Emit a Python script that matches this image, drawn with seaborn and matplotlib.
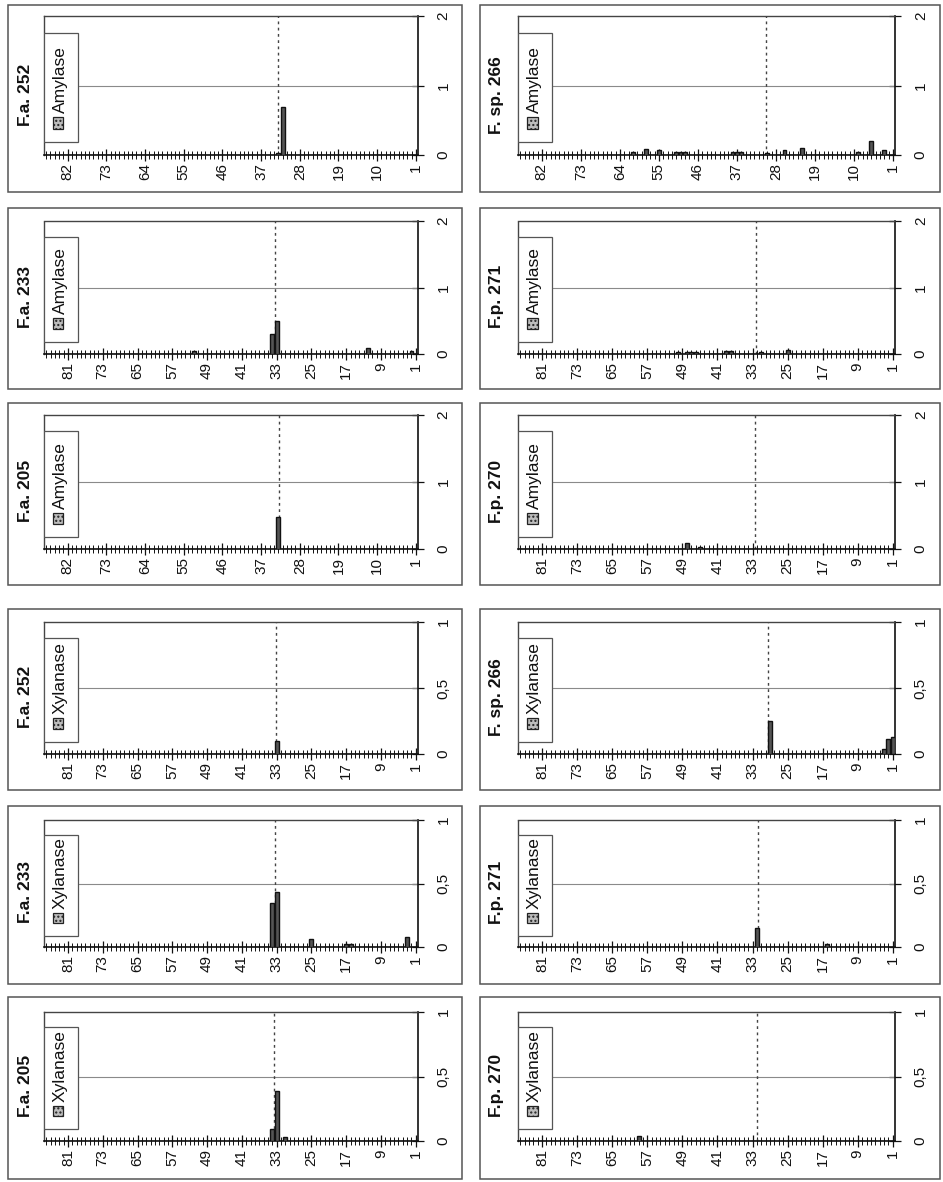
import numpy as np
import pandas as pd
import matplotlib
matplotlib.use("Agg")
import matplotlib.pyplot as plt
import matplotlib.transforms as mtransforms
from matplotlib.patches import Rectangle
from matplotlib.ticker import MultipleLocator
import seaborn as sns

# panel titles, left column then right column, top to bottom
left_titles = ["F.a. 252", "F.a. 233", "F.a. 205", "F.a. 252", "F.a. 233", "F.a. 205"]
right_titles = ["F. sp. 266", "F.p. 271", "F.p. 270", "F. sp. 266", "F.p. 271", "F.p. 270"]
enzymes = ["Amylase", "Amylase", "Amylase", "Xylanase", "Xylanase", "Xylanase"]

# number of fractions on each panel
left_nfrac = [87, 86, 87, 86, 86, 86]
right_nfrac = [87, 86, 86, 86, 86, 86]

# position of the dashed marker line (fraction)
left_marker = [33.1, 33.4, 32.9, 33.1, 33.4, 33.7]
right_marker = [30.2, 32.3, 32.5, 29.4, 31.7, 31.9]

# activity per fraction (only non zero fractions)
fa252_amy_frac = [33, 32]
fa252_amy_val = [0.03, 0.69]
fa233_amy_frac = [52, 34, 33, 12, 2]
fa233_amy_val = [0.04, 0.30, 0.49, 0.09, 0.04]
fa205_amy_frac = [33]
fa205_amy_val = [0.48]
fa252_xyl_frac = [33]
fa252_xyl_val = [0.10]
fa233_xyl_frac = [34, 33, 25, 17, 16, 3]
fa233_xyl_val = [0.35, 0.43, 0.06, 0.025, 0.025, 0.08]
fa205_xyl_frac = [34, 33, 31]
fa205_xyl_val = [0.09, 0.39, 0.03]

fsp266_amy_frac = [61, 58, 55, 51, 50, 49, 38, 37, 36, 30, 26, 22, 9, 6, 3]
fsp266_amy_val = [0.04, 0.09, 0.07, 0.04, 0.04, 0.04, 0.04, 0.04, 0.04, 0.03, 0.07, 0.10, 0.04, 0.20, 0.07]
fp271_amy_frac = [50, 48, 47, 46, 39, 38, 31, 25]
fp271_amy_val = [0.03, 0.03, 0.03, 0.03, 0.05, 0.04, 0.03, 0.06]
fp270_amy_frac = [48, 45]
fp270_amy_val = [0.09, 0.03]
fsp266_xyl_frac = [29, 3, 2, 1]
fsp266_xyl_val = [0.25, 0.04, 0.11, 0.13]
fp271_xyl_frac = [32, 16]
fp271_xyl_val = [0.15, 0.02]
fp270_xyl_frac = [59]
fp270_xyl_val = [0.035]

left_data = [(fa252_amy_frac, fa252_amy_val), (fa233_amy_frac, fa233_amy_val),
             (fa205_amy_frac, fa205_amy_val), (fa252_xyl_frac, fa252_xyl_val),
             (fa233_xyl_frac, fa233_xyl_val), (fa205_xyl_frac, fa205_xyl_val)]
right_data = [(fsp266_amy_frac, fsp266_amy_val), (fp271_amy_frac, fp271_amy_val),
              (fp270_amy_frac, fp270_amy_val), (fsp266_xyl_frac, fsp266_xyl_val),
              (fp271_xyl_frac, fp271_xyl_val), (fp270_xyl_frac, fp270_xyl_val)]

sns.set_theme(style="white")
plt.rcParams["font.family"] = ["Liberation Sans", "DejaVu Sans"]

W, H = 943, 1182
fig = plt.figure(figsize=(W / 100, H / 100), dpi=100)
fig.patch.set_facecolor("white")

# layout in pixels
box_x = [(8, 462), (480, 940)]
plot_x = [(44, 418), (518, 895)]
title_x = [25, 497]
box_y = [(5, 192), (208, 389), (403, 585), (609, 790), (806, 984), (997, 1179)]
plot_y = [(16, 155), (221, 354), (415, 549), (622, 754), (820, 947), (1012, 1141)]


def draw_panel(col, row, title, enzyme, nfrac, marker, frac, vals):
    bx0, bx1 = box_x[col]
    by0, by1 = box_y[row]
    fig.add_artist(Rectangle((bx0 / W, 1 - by1 / H), (bx1 - bx0) / W, (by1 - by0) / H,
                             transform=fig.transFigure, fill=False, ec="#555555", lw=1.1))
    px0, px1 = plot_x[col]
    py0, py1 = plot_y[row]
    ax = fig.add_axes([px0 / W, 1 - py1 / H, (px1 - px0) / W, (py1 - py0) / H])

    df = pd.DataFrame({"fraction": np.arange(1, nfrac + 1), "activity": 0.0})
    lookup = dict(zip(frac, vals))
    df["activity"] = df["fraction"].map(lookup).fillna(0.0)
    sns.barplot(data=df, x="fraction", y="activity", native_scale=True, width=0.9,
                color="#555555", saturation=1, edgecolor="#111111", linewidth=1.0,
                errorbar=None, ax=ax, zorder=3)

    if enzyme == "Amylase":
        ymax, yt, ylab = 2, [0, 1, 2], ["0", "1", "2"]
    else:
        ymax, yt, ylab = 1, [0, 0.5, 1], ["0", "0,5", "1"]
    step = 9 if nfrac == 87 else 8

    ax.set_xlim(nfrac + 0.5, 0.5)
    ax.set_ylim(0, ymax)
    ax.set_xlabel("")
    ax.set_ylabel("")
    ax.set_xticks(list(range(1, nfrac + 1, step)))
    ax.set_xticklabels([str(v) for v in range(1, nfrac + 1, step)], rotation=90, va="top")
    ax.xaxis.set_minor_locator(MultipleLocator(1))
    ax.tick_params(axis="x", which="major", bottom=True, direction="inout", length=8,
                   width=0.9, labelsize=11, pad=2, colors="#111111")
    ax.tick_params(axis="x", which="minor", bottom=True, direction="inout", length=6,
                   width=0.7, colors="#111111")
    ax.yaxis.tick_right()
    ax.set_yticks(yt)
    ax.set_yticklabels(ylab, rotation=90, va="center")
    ax.tick_params(axis="y", right=True, left=False, direction="inout", length=9,
                   width=0.9, labelsize=11, pad=9, colors="#111111")

    for s in ["top", "left"]:
        ax.spines[s].set_linestyle((0, (1, 1)))
        ax.spines[s].set_color("#444444")
        ax.spines[s].set_linewidth(1.0)
    for s in ["right", "bottom"]:
        ax.spines[s].set_color("#111111")
        ax.spines[s].set_linewidth(1.2)

    ax.axhline(ymax / 2, color="#8a8a8a", lw=0.8, zorder=1)
    ax.axvline(marker, color="#444444", lw=1.0, ls=(0, (2, 2.5)), zorder=2)

    # legend drawn rotated like the page
    ax.add_patch(Rectangle((0, 0.09), 0.09, 0.79, transform=ax.transAxes,
                           fc="white", ec="#555555", lw=0.9, zorder=5))
    ax.add_patch(Rectangle((0.024, 0.19), 0.028, 0.08, transform=ax.transAxes,
                           fc="#bdbdbd", ec="#222222", lw=0.9, hatch="....", zorder=6))
    ax.text(0.043, 0.30, enzyme, transform=ax.transAxes, rotation=90, ha="center",
            va="bottom", fontsize=12.5, color="#111111", zorder=6)

    trans = mtransforms.blended_transform_factory(fig.transFigure, ax.transAxes)
    ax.text(title_x[col] / W, 0.43, title, transform=trans, rotation=90, ha="center",
            va="center", fontsize=12.5, fontweight="bold", color="#111111")


for i in range(6):
    draw_panel(0, i, left_titles[i], enzymes[i], left_nfrac[i], left_marker[i], *left_data[i])
    draw_panel(1, i, right_titles[i], enzymes[i], right_nfrac[i], right_marker[i], *right_data[i])

fig.savefig("out.png", dpi=100)
